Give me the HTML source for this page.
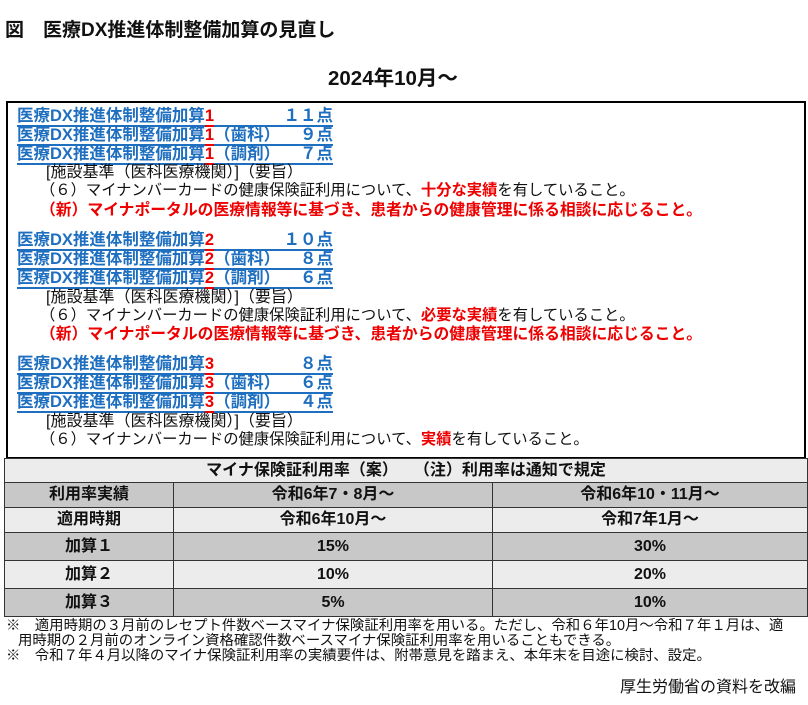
<!DOCTYPE html><html><head><meta charset="utf-8"><style>
body{margin:0;width:808px;height:705px;background:#fff;font-family:"Liberation Sans","Noto Sans CJK JP",sans-serif;position:relative;overflow:hidden}
.a{position:absolute;white-space:nowrap}
.t{font-weight:bold;color:#111}
.box{position:absolute;left:6px;top:101px;width:796px;height:354px;border:2px solid #000}
.bl{position:absolute;left:17px;font-weight:bold;font-size:16.5px;color:#1f6fc0;white-space:nowrap;width:316px;line-height:17px;height:17px;border-bottom:2px solid #1f6fc0}
.bl .r{color:#e00;display:inline-block;height:17px;border-bottom:2px solid #e00;margin-bottom:-2px}
.bl .p{position:absolute;right:0;top:0}
.n{position:absolute;left:40px;font-size:15.3px;color:#111;white-space:nowrap;line-height:18px}
.red{color:#e00;font-weight:bold}
.n.red{font-size:15.8px}
table{position:absolute;left:4px;top:458px;width:804px;border-collapse:collapse;font-family:"Liberation Sans","Noto Sans CJK JP",sans-serif;font-weight:bold;color:#111}
td{border:1px solid #333;text-align:center;font-size:16px;padding:0;line-height:16px;vertical-align:middle}
.f{position:absolute;font-size:14.4px;color:#111;white-space:nowrap;line-height:15px}
</style></head><body>
<div class="a t" style="left:5px;top:15px;font-size:19px">図　医療DX推進体制整備加算の見直し</div>
<div class="a t" style="left:328px;top:61px;font-size:20.5px">2024年10月～</div>
<div class="box"></div>
<div class="bl" style="top:108px">医療DX推進体制整備加算<span class="r">1</span><span class="p">１１点</span></div>
<div class="bl" style="top:127px">医療DX推進体制整備加算<span class="r">1</span>（歯科）<span class="p">９点</span></div>
<div class="bl" style="top:146px">医療DX推進体制整備加算<span class="r">1</span>（調剤）<span class="p">７点</span></div>
<div class="n" style="top:164px;left:46px;font-size:16px">[施設基準（医科医療機関）]（要旨）</div>
<div class="n" style="top:182px">（６）マイナンバーカードの健康保険証利用について、<span class="red">十分な実績</span>を有していること。</div>
<div class="n red" style="top:202px">（新）マイナポータルの医療情報等に基づき、患者からの健康管理に係る相談に応じること。</div>
<div class="bl" style="top:232px">医療DX推進体制整備加算<span class="r">2</span><span class="p">１０点</span></div>
<div class="bl" style="top:251px">医療DX推進体制整備加算<span class="r">2</span>（歯科）<span class="p">８点</span></div>
<div class="bl" style="top:270px">医療DX推進体制整備加算<span class="r">2</span>（調剤）<span class="p">６点</span></div>
<div class="n" style="top:289px;left:46px;font-size:16px">[施設基準（医科医療機関）]（要旨）</div>
<div class="n" style="top:307px">（６）マイナンバーカードの健康保険証利用について、<span class="red">必要な実績</span>を有していること。</div>
<div class="n red" style="top:326px">（新）マイナポータルの医療情報等に基づき、患者からの健康管理に係る相談に応じること。</div>
<div class="bl" style="top:356px">医療DX推進体制整備加算<span class="r">3</span><span class="p">８点</span></div>
<div class="bl" style="top:375px">医療DX推進体制整備加算<span class="r">3</span>（歯科）<span class="p">６点</span></div>
<div class="bl" style="top:394px">医療DX推進体制整備加算<span class="r">3</span>（調剤）<span class="p">４点</span></div>
<div class="n" style="top:413px;left:46px;font-size:16px">[施設基準（医科医療機関）]（要旨）</div>
<div class="n" style="top:431px">（６）マイナンバーカードの健康保険証利用について、<span class="red">実績</span>を有していること。</div>
<table>
<tr style="height:24px;background:#ececec"><td colspan="3">マイナ保険証利用率（案）　　（注）利用率は通知で規定</td></tr>
<tr style="height:25px;background:#c8c8c8"><td style="width:168px">利用率実績</td><td style="width:318px">令和6年7・8月～</td><td>令和6年10・11月～</td></tr>
<tr style="height:25px;background:#ececec"><td>適用時期</td><td>令和6年10月～</td><td>令和7年1月～</td></tr>
<tr style="height:28px;background:#c8c8c8"><td>加算１</td><td>15%</td><td>30%</td></tr>
<tr style="height:28px;background:#ececec"><td>加算２</td><td>10%</td><td>20%</td></tr>
<tr style="height:28px;background:#c8c8c8"><td>加算３</td><td>5%</td><td>10%</td></tr>
</table>
<div class="f" style="left:6px;top:619px">※　適用時期の３月前のレセプト件数ベースマイナ保険証利用率を用いる。ただし、令和６年10月～令和７年１月は、適</div>
<div class="f" style="left:18px;top:634px">用時期の２月前のオンライン資格確認件数ベースマイナ保険証利用率を用いることもできる。</div>
<div class="f" style="left:6px;top:649px">※　令和７年４月以降のマイナ保険証利用率の実績要件は、附帯意見を踏まえ、本年末を目途に検討、設定。</div>
<div class="f" style="left:620px;top:680px;font-size:16px">厚生労働省の資料を改編</div>
</body></html>
